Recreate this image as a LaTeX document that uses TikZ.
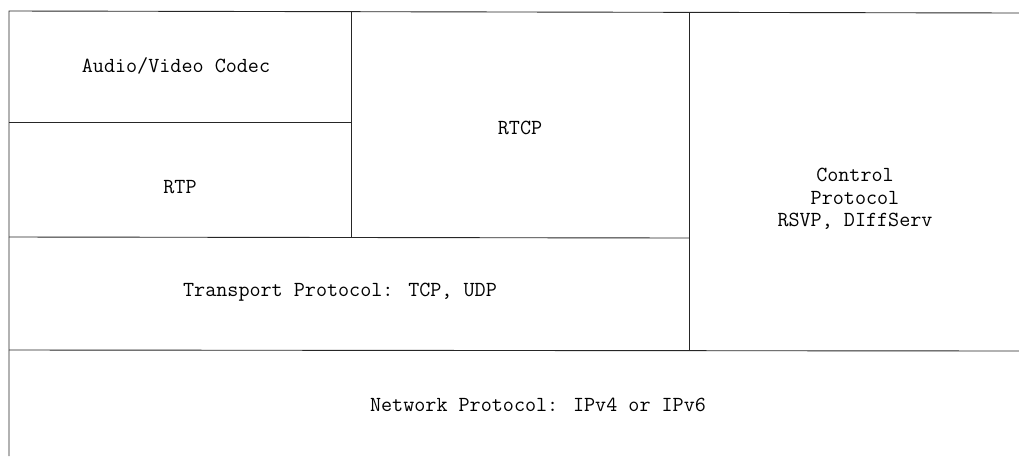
\documentclass[tikz,border=0pt]{standalone}
\begin{document}
\begin{tikzpicture}[x=1pt,y=-1pt,
  rule/.style={line width=0.9pt,black!85},
  lbl/.style={font=\ttfamily\fontsize{21.5}{22.5}\selectfont,align=center,inner sep=0pt}]
\useasboundingbox (0,0) rectangle (1019,456);
\draw[rule] (9,456) -- (9,11) -- (1019,13);
\draw[rule] (9,122) -- (351,122);
\draw[rule] (351,11) -- (351,237);
\draw[rule] (9,237) -- (689,238);
\draw[rule] (689,12) -- (689,350);
\draw[rule] (9,350) -- (1019,351);
\node[lbl] (codec) at (176,66) {Audio/Video Codec};
\node[lbl] (rtp) at (180,187) {RTP};
\node[lbl] (rtcp) at (520,128) {RTCP};
\node[lbl] (ctrl) at (855,199) {Control\\Protocol\\RSVP, DIffServ};
\node[lbl] (trans) at (340,292) {Transport Protocol: TCP, UDP};
\node[lbl] (net) at (538,405) {Network Protocol: IPv4 or IPv6};
\end{tikzpicture}
\end{document}
